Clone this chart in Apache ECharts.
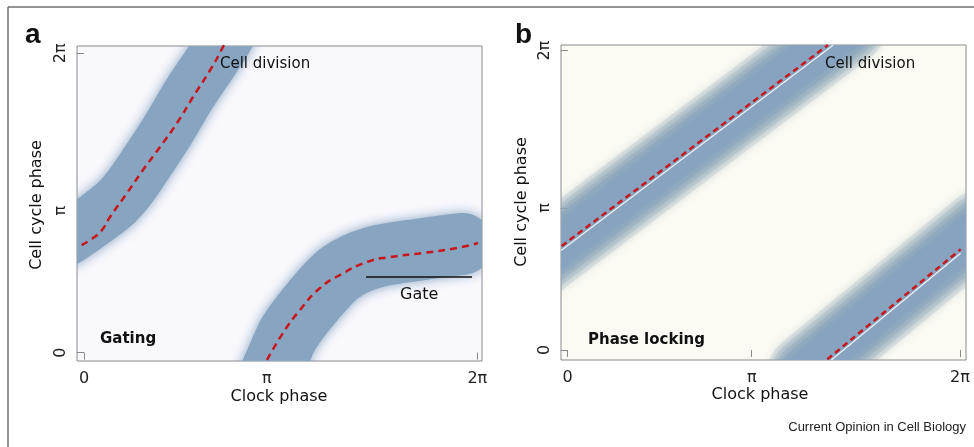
<!DOCTYPE html>
<html>
<head>
<meta charset="utf-8">
<title>Gating and phase locking</title>
<script src="https://cdn.jsdelivr.net/npm/echarts@6/dist/echarts.min.js"></script>
<style>
  html, body { margin: 0; padding: 0; background: #fff; }
  #chart { width: 974px; height: 447px; }
</style>
</head>
<body>
<div id="chart"></div>
<script>
// tick positions and labels (ticks in the figure are not evenly spaced)
var tickLabels = ['0', 'π', '2π'];
var ticksAX = [0, 2.92, 6.283];
var ticksAY = [0, 2.98, 6.283];
var ticksBX = [0, 2.947, 6.283];
var ticksBY = [0, 2.98, 6.283];

// panel a : gating
var bandUpperA = [[-0.304, 2.365], [-0.064, 2.575], [0.208, 2.827], [0.511, 3.142], [0.735, 3.478],
  [0.998, 3.981], [1.342, 4.674], [1.693, 5.451], [2.157, 6.353], [2.300, 6.668]];
var bandLowerA = [[2.971, -0.468], [3.099, -0.090], [3.275, 0.414], [3.674, 1.106], [4.089, 1.673],
  [4.617, 1.998], [5.415, 2.176], [6.040, 2.283]];
var divisionUpperA = [[-0.037, 2.260], [0.144, 2.407], [0.288, 2.575], [0.415, 2.848], [0.687, 3.351],
  [0.942, 3.834], [1.214, 4.317], [1.486, 4.821], [1.741, 5.366], [2.045, 5.996], [2.220, 6.416], [2.268, 6.541]];
var divisionLowerA = [[2.923, -0.153], [3.179, 0.414], [3.450, 0.896], [3.770, 1.358], [4.089, 1.631],
  [4.521, 1.904], [4.888, 2.008], [5.415, 2.092], [5.958, 2.197], [6.294, 2.302]];
var gateA = [[4.505, 1.589], [6.198, 1.589]];

// panel b : phase locking
var bandUpperB = [[-0.5, 1.83], [4.5, 6.77]];
var bandLowerB = [[3.8, -0.45], [6.6, 2.575]];
var divisionUpperB = [[-0.096, 2.183], [4.169, 6.402]];
var divisionLowerB = [[4.158, -0.195], [6.294, 2.114]];
var whiteUpperB = [[-0.107, 2.088], [4.25, 6.398]];
var whiteLowerB = [[4.222, -0.21], [6.294, 2.030]];

var chart = echarts.init(document.getElementById('chart'));
var FONT = 'DejaVu Sans';
var RED = '#c8161d';

function tickFmt(ticks) {
  return function (v) {
    for (var i = 0; i < ticks.length; i++) {
      if (Math.abs(ticks[i] - v) < 1e-6) return tickLabels[i];
    }
    return '';
  };
}

function xAx(grid, min, max, ticks, inside) {
  return {
    type: 'value', gridIndex: grid, min: min, max: max,
    axisLine: { show: false },
    splitLine: { show: false },
    axisTick: { show: true, inside: inside, length: inside ? 4 : 7, customValues: ticks,
      lineStyle: { color: '#8a8a8a', width: 1 } },
    axisLabel: { show: !inside, customValues: ticks, formatter: tickFmt(ticks), margin: 10,
      color: '#222', fontFamily: FONT, fontSize: 16 }
  };
}
function yAx(grid, min, max, ticks, inside) {
  var a = xAx(grid, min, max, ticks, inside);
  a.axisLabel.rotate = 90;
  a.axisLabel.margin = 8;
  return a;
}

// thick blurred band drawn as stacked strokes along a path in data space
function band(data, xi, strokes, smooth) {
  return {
    type: 'custom', xAxisIndex: xi, yAxisIndex: xi, data: data, clip: true,
    silent: true, z: 1,
    renderItem: function (params, api) {
      if (params.dataIndex !== 0) return;
      var pts = data.map(function (d) { return api.coord(d); });
      return {
        type: 'group',
        children: strokes.map(function (s) {
          return {
            type: 'polyline',
            shape: { points: pts, smooth: smooth },
            style: { fill: null, stroke: s.color, opacity: s.opacity, lineWidth: s.width,
              lineCap: 'round', lineJoin: 'round', shadowBlur: s.blur, shadowColor: s.color }
          };
        })
      };
    }
  };
}
function dashed(data, xi, dash, smooth) {
  return {
    type: 'line', xAxisIndex: xi, yAxisIndex: xi, data: data, smooth: smooth,
    showSymbol: false, silent: true, z: 4, clip: true,
    lineStyle: { width: 2.5, color: RED, type: dash }
  };
}
function plain(data, xi, color, width, z) {
  return {
    type: 'line', xAxisIndex: xi, yAxisIndex: xi, data: data,
    showSymbol: false, silent: true, z: z, clip: true,
    lineStyle: { width: width, color: color }
  };
}

function txt(x, y, text, opt) {
  opt = opt || {};
  return {
    type: 'text', x: x, y: y, rotation: opt.rot || 0, z: 10,
    style: {
      text: text, fill: opt.color || '#111',
      font: (opt.weight || 'normal') + ' ' + (opt.size || 15) + 'px ' + (opt.family || FONT),
      textAlign: opt.align || 'left', textVerticalAlign: 'middle'
    }
  };
}

var bandA = function (w) { return [{ color: '#87a4c0', opacity: 1, width: w, blur: 12 }]; };
var bandB = [
  { color: '#95acba', opacity: 0.2, width: 74, blur: 10 },
  { color: '#92aaba', opacity: 0.25, width: 66, blur: 10 },
  { color: '#8fa8bb', opacity: 0.3, width: 58, blur: 10 },
  { color: '#8aa5bd', opacity: 0.45, width: 50, blur: 10 },
  { color: '#87a3bf', opacity: 0.8, width: 40, blur: 10 }
];

var option = {
  animation: false,
  backgroundColor: '#ffffff',
  grid: [
    { left: 77, top: 46, width: 405, height: 315, show: true, backgroundColor: '#f9f8fd',
      borderColor: '#8a8a8a', borderWidth: 1 },
    { left: 561, top: 45, width: 405, height: 315, show: true, backgroundColor: '#fbfbf3',
      borderColor: '#8a8a8a', borderWidth: 1 }
  ],
  xAxis: [
    xAx(0, -0.112, 6.358, ticksAX, false),
    xAx(1, -0.107, 6.379, ticksBX, false),
    xAx(0, -0.112, 6.358, ticksAX, true),
    xAx(1, -0.107, 6.379, ticksBX, true)
  ],
  yAxis: [
    yAx(0, -0.174, 6.437, ticksAY, false),
    yAx(1, -0.21, 6.402, ticksBY, false),
    yAx(0, -0.174, 6.437, ticksAY, true),
    yAx(1, -0.21, 6.402, ticksBY, true)
  ],
  series: [
    band(bandUpperA, 0, bandA(54), 0.3),
    band(bandLowerA, 0, bandA(62), 0.3),
    dashed(divisionUpperA, 0, [7, 5], true),
    dashed(divisionLowerA, 0, [7, 5], true),
    plain(gateA, 0, '#111', 1.5, 3),

    band(bandUpperB, 1, bandB, 0),
    band(bandLowerB, 1, bandB, 0),
    plain(whiteUpperB, 1, '#eef2f6', 1.2, 3),
    plain(whiteLowerB, 1, '#eef2f6', 1.2, 3),
    dashed(divisionUpperB, 1, [6, 4], false),
    dashed(divisionLowerB, 1, [6, 4], false)
  ],
  graphic: [
    { type: 'line', shape: { x1: 8, y1: 7, x2: 974, y2: 7 }, style: { stroke: '#6f6f6f', lineWidth: 1.5 } },
    { type: 'line', shape: { x1: 8, y1: 7, x2: 8, y2: 447 }, style: { stroke: '#6f6f6f', lineWidth: 1.5 } },
    txt(25, 35, 'a', { weight: 'bold', size: 28, family: 'Liberation Sans' }),
    txt(515, 35, 'b', { weight: 'bold', size: 28, family: 'Liberation Sans' }),
    txt(220, 64, 'Cell division'),
    txt(400, 295, 'Gate', { size: 16 }),
    txt(100, 339, 'Gating', { weight: 'bold' }),
    txt(825, 64, 'Cell division'),
    txt(588, 340, 'Phase locking', { weight: 'bold' }),
    txt(279, 397, 'Clock phase', { size: 16, align: 'center' }),
    txt(760, 395, 'Clock phase', { size: 16, align: 'center' }),
    txt(37, 205, 'Cell cycle phase', { size: 16, align: 'center', rot: Math.PI / 2 }),
    txt(522, 202, 'Cell cycle phase', { size: 16, align: 'center', rot: Math.PI / 2 }),
    txt(966, 427, 'Current Opinion in Cell Biology', { size: 13, align: 'right', family: 'Liberation Sans', color: '#222' })
  ]
};

chart.setOption(option);
</script>
</body>
</html>
